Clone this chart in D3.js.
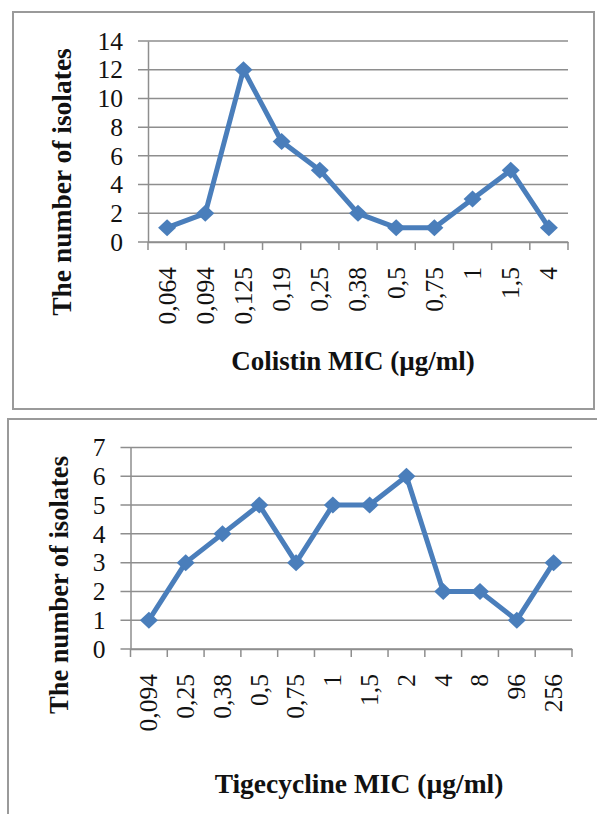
<!DOCTYPE html>
<html><head><meta charset="utf-8">
<script src="https://cdn.jsdelivr.net/npm/d3@7/dist/d3.min.js"></script>
<style>body{margin:0;background:#fff}svg{display:block}</style>
</head><body>
<script>
const colistinMIC = ["0,064","0,094","0,125","0,19","0,25","0,38","0,5","0,75","1","1,5","4"];
const colistinCounts = [1,2,12,7,5,2,1,1,3,5,1];
const colistinYTicks = [0,2,4,6,8,10,12,14];

const tigecyclineMIC = ["0,094","0,25","0,38","0,5","0,75","1","1,5","2","4","8","96","256"];
const tigecyclineCounts = [1,3,4,5,3,5,5,6,2,2,1,3];
const tigecyclineYTicks = [0,1,2,3,4,5,6,7];

const yTitle = "The number of isolates";
const xTitle1 = "Colistin MIC (µg/ml)";
const xTitle2 = "Tigecycline MIC (µg/ml)";

const W = 597, H = 814;
const svg = d3.select("body").append("svg").attr("width", W).attr("height", H);
const font = "'Liberation Serif','Times New Roman',serif";
const gridCol = "#8e8e8e", lineCol = "#4a7ebb";

function drawChart(cfg){
  const g = svg.append("g");
  g.append("rect").attr("x", cfg.box[0]).attr("y", cfg.box[1])
    .attr("width", cfg.box[2]).attr("height", cfg.box[3])
    .attr("fill", "none").attr("stroke", "#9a9a9a").attr("stroke-width", 2);

  const x = d3.scaleBand().domain(cfg.cats).range([cfg.x0, cfg.x1]).padding(0);
  const y = d3.scaleLinear().domain([0, d3.max(cfg.yTicks)]).range([cfg.y0, cfg.y1]);

  g.append("g").selectAll("line").data(cfg.yTicks).join("line")
    .attr("x1", cfg.x0 - 10).attr("x2", cfg.x1)
    .attr("y1", d => y(d)).attr("y2", d => y(d))
    .attr("stroke", gridCol).attr("stroke-width", 1.5);

  const ya = g.append("g").attr("transform", `translate(${cfg.x0},0)`)
    .call(d3.axisLeft(y).tickValues(cfg.yTicks).tickSize(0).tickPadding(25).tickFormat(d3.format("d")));
  ya.select(".domain").attr("stroke", gridCol).attr("stroke-width", 1.5);
  ya.selectAll("text").attr("font-family", font).attr("font-size", 25.5).attr("fill", "#111");

  const bounds = cfg.cats.map(c => x(c)).concat([cfg.x1]);
  g.append("g").selectAll("line").data(bounds).join("line")
    .attr("x1", d => d).attr("x2", d => d)
    .attr("y1", cfg.y0).attr("y2", cfg.y0 + 8)
    .attr("stroke", gridCol).attr("stroke-width", 1.5);
  const xa = g.append("g").attr("transform", `translate(0,${cfg.y0})`)
    .call(d3.axisBottom(x).tickSize(0).tickPadding(0));
  xa.select(".domain").attr("stroke", gridCol).attr("stroke-width", 1.5);
  xa.selectAll(".tick text")
    .attr("font-family", font).attr("font-size", 25.5).attr("fill", "#111")
    .attr("transform", "translate(0,25) rotate(-90)")
    .attr("text-anchor", "end").attr("dy", "0.33em").attr("y", 0).attr("x", 0);

  const cx = (c) => x(c) + x.bandwidth()/2;
  const pts = cfg.cats.map((c,i) => [cx(c), y(cfg.vals[i])]);
  g.append("path").attr("d", d3.line()(pts))
    .attr("fill", "none").attr("stroke", lineCol).attr("stroke-width", 5)
    .attr("stroke-linejoin", "round");
  g.append("g").selectAll("path").data(pts).join("path")
    .attr("d", d => `M${d[0]},${d[1]-8.5}L${d[0]+9},${d[1]}L${d[0]},${d[1]+8.5}L${d[0]-9},${d[1]}Z`)
    .attr("fill", lineCol);

  g.append("text").attr("transform", `translate(${cfg.yt[0]},${cfg.yt[1]}) rotate(-90)`)
    .attr("text-anchor", "middle").attr("font-family", font).attr("font-weight", "bold")
    .attr("font-size", cfg.ytSize).attr("fill", "#111").text(yTitle);
  g.append("text").attr("x", cfg.xt[0]).attr("y", cfg.xt[1])
    .attr("text-anchor", "middle").attr("font-family", font).attr("font-weight", "bold")
    .attr("font-size", cfg.xtSize).attr("fill", "#111").text(cfg.xTitle);
}

drawChart({
  box: [13, 12, 581, 397],
  cats: colistinMIC, vals: colistinCounts, yTicks: colistinYTicks,
  x0: 148, x1: 568, y0: 242, y1: 41,
  yt: [71, 182], ytSize: 27.5, xt: [353, 370], xtSize: 27, xTitle: xTitle1
});
drawChart({
  box: [8, 419, 600, 420],
  cats: tigecyclineMIC, vals: tigecyclineCounts, yTicks: tigecyclineYTicks,
  x0: 130.5, x1: 572, y0: 649, y1: 447.5,
  yt: [68, 585], ytSize: 26.5, xt: [359, 793], xtSize: 27.5, xTitle: xTitle2
});
</script>
</body></html>
